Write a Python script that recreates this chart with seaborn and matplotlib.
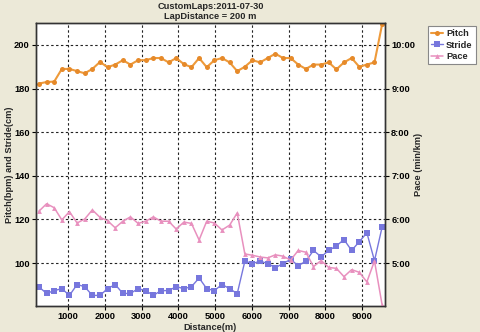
import matplotlib
matplotlib.use("Agg")
import matplotlib.pyplot as plt
import seaborn as sns
import pandas as pd

# ---- data ----
distance = [205, 413, 620, 828, 1035, 1243, 1450, 1658, 1865, 2073,
            2280, 2488, 2695, 2903, 3110, 3318, 3525, 3733, 3940, 4148,
            4355, 4563, 4770, 4978, 5185, 5393, 5600, 5808, 6015, 6223,
            6430, 6638, 6845, 7053, 7260, 7468, 7675, 7883, 8090, 8298,
            8505, 8713, 8920, 9128, 9335, 9543]
pitch = [182.3, 183.0, 183.2, 189.0, 189.0, 188.0, 187.0, 189.0, 192.2, 189.8,
         191.0, 193.0, 191.0, 193.0, 193.0, 194.0, 194.0, 192.0, 194.0, 191.2,
         189.8, 194.0, 189.8, 193.0, 194.0, 192.0, 188.0, 190.0, 193.0, 192.0,
         194.0, 196.0, 194.0, 194.0, 191.0, 189.0, 191.0, 191.0, 192.0, 188.8,
         192.0, 194.0, 190.0, 191.0, 192.0, 209.5]
stride = [89.1, 86.1, 87.4, 88.3, 85.2, 90.2, 89.2, 85.2, 85.2, 88.3,
          90.2, 86.1, 86.1, 88.3, 87.4, 85.2, 87.4, 87.4, 89.2, 88.3,
          89.2, 93.2, 88.3, 87.4, 90.2, 88.3, 86.0, 100.9, 99.8, 100.9,
          99.8, 97.9, 99.8, 101.7, 98.8, 100.9, 105.8, 102.9, 105.8, 107.9,
          110.8, 105.8, 109.8, 113.9, 101.1, 116.6]
pace = [6.19, 6.36, 6.27, 5.99, 6.18, 5.92, 6.01, 6.22, 6.05, 5.97,
        5.81, 5.96, 6.06, 5.91, 5.96, 6.06, 5.96, 5.96, 5.78, 5.94,
        5.91, 5.53, 5.96, 5.92, 5.76, 5.87, 6.15, 5.21, 5.18, 5.14,
        5.12, 5.19, 5.16, 5.07, 5.29, 5.25, 4.92, 5.06, 4.90, 4.88,
        4.69, 4.85, 4.79, 4.57, 5.05, 4.04]

x_ticks = [1000, 2000, 3000, 4000, 5000, 6000, 7000, 8000, 9000]
left_ticks = [100, 120, 140, 160, 180, 200]
pace_ticks = [5, 6, 7, 8, 9, 10]
pace_tick_labels = ["5:00", "6:00", "7:00", "8:00", "9:00", "10:00"]

title_text = "CustomLaps:2011-07-30\nLapDistance = 200 m"

# ---- style ----
sns.set_theme(style="white")
plt.rcParams['font.family'] = ['Liberation Sans', 'DejaVu Sans']
plt.rcParams['font.weight'] = 'bold'
plt.rcParams['axes.labelweight'] = 'bold'

FS = 6.7
c_pitch = "#EE9A3A"
c_stride = "#7777DD"
c_pace = "#E890BE"

df = pd.DataFrame({"distance": distance, "pitch": pitch,
                   "stride": stride, "pace": pace})

fig = plt.figure(figsize=(4.8, 3.32), dpi=100, facecolor="#ECE9D8")
ax = fig.add_axes([0.075, 0.078, 0.727, 0.853])
ax.set_facecolor("white")

sns.lineplot(data=df, x="distance", y="pitch", ax=ax, color=c_pitch,
             marker="o", markersize=3.6, markeredgewidth=0,
             markerfacecolor="#E68A2A", lw=1.5, label="Pitch", legend=False)
sns.lineplot(data=df, x="distance", y="stride", ax=ax, color=c_stride,
             marker="s", markersize=4.2, markeredgewidth=0,
             lw=1.0, label="Stride", legend=False)

ax2 = ax.twinx()
sns.lineplot(data=df, x="distance", y="pace", ax=ax2, color=c_pace,
             marker="^", markersize=3.5, markeredgewidth=0,
             lw=1.1, label="Pace", legend=False)

ax.set_xlim(125, 9620)
ax.set_ylim(80.3, 210.1)
ax2.set_ylim(80.3 / 20, 210.1 / 20)

ax.set_xticks(x_ticks)
ax.set_xticklabels([str(t) for t in x_ticks])
ax.set_yticks(left_ticks)
ax.set_yticklabels([str(t) for t in left_ticks])
ax2.set_yticks(pace_ticks)
ax2.set_yticklabels(pace_tick_labels)

for a in (ax, ax2):
    a.tick_params(axis="both", which="major", labelsize=FS, length=3,
                  width=0.8, direction="out", color="black",
                  labelcolor="black", pad=1.5)
    for s in a.spines.values():
        s.set_color("#333333")
        s.set_linewidth(1.0)
ax.tick_params(axis="x", bottom=True)
ax.tick_params(axis="y", left=True)
ax2.tick_params(axis="y", right=True)

ax.grid(True, color="#222222", linestyle=(0, (2.2, 2.2)), linewidth=0.8)
ax.set_axisbelow(True)

ax.set_xlabel("Distance(m)", fontsize=FS, fontweight="bold", labelpad=2)
ax.xaxis.set_label_coords(0.5, -0.058)
ax.set_ylabel("Pitch(bpm) and Stride(cm)", fontsize=FS, fontweight="bold")
ax.yaxis.set_label_coords(-0.062, 0.5)
ax2.set_ylabel("Pace (min/km)", fontsize=FS, fontweight="bold")
ax2.yaxis.set_label_coords(1.082, 0.5)

ax.set_title(title_text, fontsize=FS, fontweight="bold", pad=3,
             linespacing=1.05)

h1, l1 = ax.get_legend_handles_labels()
h2, l2 = ax2.get_legend_handles_labels()
leg = fig.legend(h1 + h2, l1 + l2, loc="upper left",
                 bbox_to_anchor=(428 / 480, 1 - 26 / 332), fontsize=FS,
                 frameon=True, fancybox=False, framealpha=1,
                 edgecolor="#888888", handlelength=1.3, handletextpad=0.3,
                 borderpad=0.35, labelspacing=0.25, borderaxespad=0)
leg.get_frame().set_linewidth(0.8)

fig.savefig("out.png", dpi=100, facecolor=fig.get_facecolor())
